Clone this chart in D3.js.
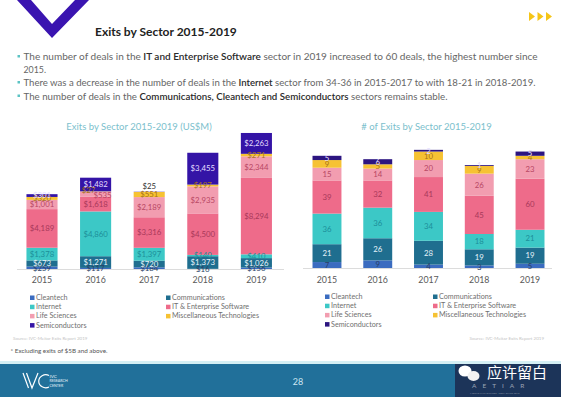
<!DOCTYPE html>
<html>
<head>
<meta charset="utf-8">
<script src="https://cdn.jsdelivr.net/npm/d3@7"></script>
<style>
  html, body { margin: 0; padding: 0; background: #fff; }
  svg { display: block; font-family: Lato, 'Open Sans', sans-serif; }
</style>
</head>
<body>
<svg id="slide" width="561" height="397"></svg>
<script>
const years = ['2015', '2016', '2017', '2018', '2019'];
const sectors = ['Cleantech', 'Communications', 'Internet', 'IT & Enterprise Software', 'Life Sciences', 'Miscellaneous Technologies', 'Semiconductors'];

// US$M
const valueCleantech = [259, 117, 184, 16, 156];
const valueCommunications = [673, 1271, 720, 1373, 1026];
const valueInternet = [1378, 4860, 1397, 140, 410];
const valueIT = [4189, 1618, 3316, 4500, 8294];
const valueLife = [1001, 535, 2189, 2935, 2344];
const valueMisc = [320, 27, 551, 197, 271];
const valueSemi = [301, 1482, 25, 3455, 2263];

// number of exits
const countCleantech = [7, 9, 4, 3, 5];
const countCommunications = [21, 26, 28, 19, 19];
const countInternet = [36, 36, 34, 18, 21];
const countIT = [39, 32, 41, 45, 60];
const countLife = [15, 14, 20, 26, 23];
const countMisc = [9, 5, 10, 9, 4];
const countSemi = [5, 6, 2, 1, 5];

const colors = ['#3b6cc0', '#1f6e8f', '#3cc8c6', '#ee6b8a', '#f29db0', '#f6c233', '#3414a6'];
const colorsCount = ['#3b6cc0', '#1f6e8f', '#3cc8c6', '#ee6b8a', '#f29db0', '#f6c233', '#2c1580'];
const labelColors = ['#2a3f66', '#e6f3fa', '#1c8f9a', '#a8395a', '#b84764', '#a8731a', '#e4ddff'];

// nudges for crowded labels (year|sector -> dx, dy)
const nudgeValue = { '2016|Miscellaneous Technologies': [-7, -1.5], '2016|Life Sciences': [7, 1.5] };

const svg = d3.select('#slide');

// ---- header ----
svg.append('polygon')
  .attr('points', '17,0 52,38 89,0 75,0 52,24 31,0')
  .attr('fill', '#3a14b0');

svg.selectAll('.arrow')
  .data([0, 1, 2])
  .enter()
  .append('polygon')
  .attr('points', (d) => { const x = 529 + d * 8.5; return `${x},12 ${x + 6},16.5 ${x},21` })
  .attr('fill', '#f5c518');

svg.append('text')
  .attr('x', 95).attr('y', 36)
  .attr('font-size', 12).attr('font-weight', 700).attr('fill', '#222')
  .text('Exits by Sector 2015-2019');

const bullets = [
  { y: 60, len: 514, parts: [['The number of deals in the ', 0], ['IT and Enterprise Software', 1], [' sector in 2019 increased to 60 deals, the highest number since', 0]] },
  { y: 72.5, len: 0, parts: [['2015.', 0]], noMark: true },
  { y: 86, len: 512, parts: [['There was a decrease in the number of deals in the ', 0], ['Internet', 1], [' sector from 34-36 in 2015-2017 to with 18-21 in 2018-2019.', 0]] },
  { y: 99.5, len: 424, parts: [['The number of deals in the ', 0], ['Communications, Cleantech and Semiconductors', 1], [' sectors remains stable.', 0]] }
];

bullets.forEach((b) => {
  if (!b.noMark) {
    svg.append('rect')
      .attr('x', 17.5).attr('y', b.y - 5).attr('width', 2.5).attr('height', 2.5)
      .attr('fill', '#5cc3c4');
  }
  const t = svg.append('text')
    .attr('x', 23.5).attr('y', b.y)
    .attr('font-size', 8.8).attr('fill', '#666');
  if (b.len) t.attr('textLength', b.len).attr('lengthAdjust', 'spacingAndGlyphs');
  b.parts.forEach((p) => {
    t.append('tspan')
      .attr('fill', p[1] ? '#2a2a2a' : '#666')
      .attr('font-weight', p[1] ? 600 : 400)
      .text(p[0]);
  });
});

// ---- stacked bar charts ----
const drawChart = (cfg) => {
  const rows = years.map((y, i) => {
    const row = { year: y };
    sectors.forEach((s, k) => { row[s] = cfg.series[k][i] });
    return row;
  });

  const stacked = d3.stack().keys(sectors)(rows);

  const x = d3.scaleBand()
    .domain(years)
    .range(cfg.xRange)
    .paddingInner(cfg.pad)
    .paddingOuter(cfg.pad / 2);

  const y = d3.scaleLinear()
    .domain(cfg.yDomain)
    .range([cfg.base, cfg.top]);

  const g = svg.append('g');

  g.append('text')
    .attr('x', cfg.titleX).attr('y', 130)
    .attr('text-anchor', 'middle')
    .attr('font-size', 9.5).attr('fill', '#7cbfcd')
    .text(cfg.title);

  g.append('line')
    .attr('x1', cfg.axis[0]).attr('x2', cfg.axis[1])
    .attr('y1', cfg.base + 0.5).attr('y2', cfg.base + 0.5)
    .attr('stroke', '#dcdcdc');

  const layers = g.selectAll('.layer')
    .data(stacked)
    .enter()
    .append('g')
    .attr('fill', (d, i) => cfg.colors[i]);

  layers.selectAll('rect')
    .data((d) => d)
    .enter()
    .append('rect')
    .attr('x', (d) => x(d.data.year))
    .attr('width', x.bandwidth())
    .attr('y', (d) => y(d[1]))
    .attr('height', (d) => y(d[0]) - y(d[1]));

  const clipId = 'clip' + cfg.id;
  svg.append('clipPath').attr('id', clipId)
    .append('rect')
    .attr('x', 0).attr('y', 0).attr('width', 561).attr('height', cfg.base + 3);

  const labels = g.append('g').attr('clip-path', `url(#${clipId})`);

  stacked.forEach((layer, k) => {
    const isTop = k === sectors.length - 1;
    const outside = (d) => cfg.aboveSmall && isTop && (y(d[0]) - y(d[1])) < 2;
    const nudge = (d) => cfg.nudge[d.data.year + '|' + layer.key] || [0, 0];
    labels.selectAll(null)
      .data(layer)
      .enter()
      .append('text')
      .attr('x', (d) => x(d.data.year) + x.bandwidth() / 2 + nudge(d)[0])
      .attr('y', (d) => outside(d) ? y(d[1]) - 3 : (y(d[0]) + y(d[1])) / 2 + 2.8 + nudge(d)[1])
      .attr('text-anchor', 'middle')
      .attr('font-size', 7.8)
      .attr('fill', (d) => outside(d) ? '#333' : labelColors[k])
      .text((d) => cfg.fmt(d[1] - d[0]));
  });

  g.selectAll('.year')
    .data(years)
    .enter()
    .append('text')
    .attr('x', (d) => x(d) + x.bandwidth() / 2)
    .attr('y', 282.5)
    .attr('text-anchor', 'middle')
    .attr('font-size', 8.8).attr('fill', '#595959')
    .text((d) => d);

  // legend
  const leg = g.selectAll('.leg')
    .data(sectors)
    .enter()
    .append('g')
    .attr('transform', (d, i) => `translate(${cfg.legX[i % 2]}, ${cfg.legY + Math.floor(i / 2) * 9.2})`);

  leg.append('rect')
    .attr('x', 0).attr('y', -4.5).attr('width', 4.5).attr('height', 4.5)
    .attr('fill', (d, i) => cfg.colors[i]);

  leg.append('text')
    .attr('x', 6).attr('y', 0)
    .attr('font-size', 7.2).attr('fill', '#707070')
    .text((d) => d);

  g.append('text')
    .attr('x', cfg.srcX).attr('y', 340)
    .attr('text-anchor', cfg.srcAnchor)
    .attr('font-size', 4.5).attr('fill', '#c4c4c4')
    .text('Source: IVC-Meitar Exits Report 2019');
};

drawChart({
  id: 'L',
  title: 'Exits by Sector 2015-2019 (US$M)',
  titleX: 139,
  series: [valueCleantech, valueCommunications, valueInternet, valueIT, valueLife, valueMisc, valueSemi],
  colors: colors,
  xRange: [15.2, 283.2],
  pad: 0.42,
  yDomain: [0, 15000],
  base: 269,
  top: 130.8,
  axis: [17, 284],
  fmt: (v) => '$' + d3.format(',')(v),
  aboveSmall: true,
  nudge: nudgeValue,
  legX: [30, 166],
  legY: 300,
  srcX: 13,
  srcAnchor: 'start'
});

drawChart({
  id: 'R',
  title: '# of Exits by Sector 2015-2019',
  titleX: 426.5,
  series: [countCleantech, countCommunications, countInternet, countIT, countLife, countMisc, countSemi],
  colors: colorsCount,
  xRange: [301.6, 555.4],
  pad: 0.43,
  yDomain: [0, 150],
  base: 268,
  top: 140.5,
  axis: [303, 552],
  fmt: (v) => String(v),
  aboveSmall: false,
  nudge: {},
  legX: [325, 433],
  legY: 299,
  srcX: 544,
  srcAnchor: 'end'
});

svg.append('text')
  .attr('x', 10.5).attr('y', 352.5)
  .attr('font-size', 6.3).attr('fill', '#555')
  .text('* Excluding exits of $5B and above.');

// ---- footer ----
svg.append('rect')
  .attr('x', 0).attr('y', 361).attr('width', 561).attr('height', 3)
  .attr('fill', '#d4eff4');
svg.append('rect')
  .attr('x', 0).attr('y', 364).attr('width', 561).attr('height', 33)
  .attr('fill', '#21709a');

const logo = svg.append('g').attr('fill', 'none').attr('stroke', '#fff').attr('stroke-width', 1.2);
logo.append('path').attr('d', 'M23,373 L28.5,388 M26.5,373 L32,388 L38,373');
logo.append('path').attr('d', 'M49,375.5 A7,6.5 0 1 0 49,387');
svg.selectAll('.logoTxt')
  .data(['IVC', 'RESEARCH', 'CENTER'])
  .enter()
  .append('text')
  .attr('x', 49.5)
  .attr('y', (d, i) => 377.5 + i * 4.6)
  .attr('font-size', (d, i) => i ? 3.6 : 4.6)
  .attr('fill', '#e8f4fa')
  .text((d) => d);

svg.append('text')
  .attr('x', 298).attr('y', 384.5)
  .attr('text-anchor', 'middle')
  .attr('font-size', 9).attr('fill', '#cfe7f2')
  .text('28');

svg.append('rect')
  .attr('x', 455).attr('y', 364).attr('width', 106).attr('height', 33)
  .attr('fill', '#1c3459');
svg.append('ellipse').attr('cx', 465).attr('cy', 371).attr('rx', 6.5).attr('ry', 5.5).attr('fill', '#fff');
svg.append('ellipse').attr('cx', 473.5).attr('cy', 376).attr('rx', 6).attr('ry', 5).attr('fill', '#f2f2f2');
svg.append('text')
  .attr('x', 487).attr('y', 378)
  .attr('font-family', "'Noto Sans CJK SC', sans-serif")
  .attr('font-size', 15).attr('fill', '#fff')
  .text('应许留白');
svg.append('text')
  .attr('x', 472).attr('y', 388)
  .attr('font-size', 6.5).attr('fill', 'rgba(255,255,255,0.55)')
  .attr('letter-spacing', 6)
  .text('AETIAR');
svg.append('text')
  .attr('x', 470).attr('y', 393.5)
  .attr('font-size', 2.6).attr('fill', 'rgba(255,255,255,0.45)')
  .text('MEITAR LAW OFFICES · TECH EXITS 2019');
</script>
</body>
</html>
